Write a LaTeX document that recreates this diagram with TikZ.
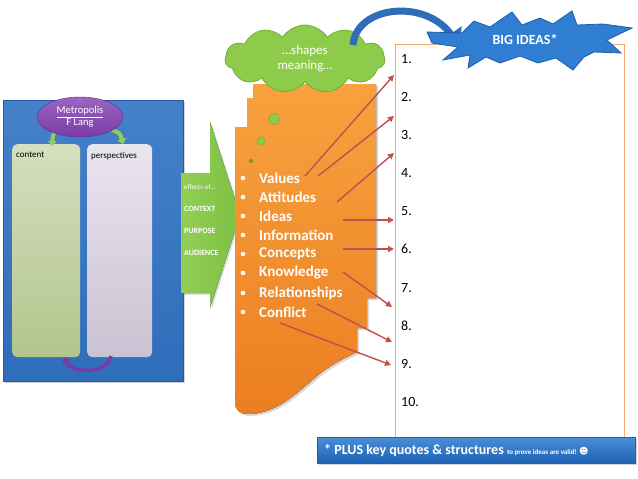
\documentclass[tikz,border=0pt]{standalone}
\usepackage{fontspec}
\setmainfont{Carlito}
\newfontfamily\djv{DejaVu Sans}
\usetikzlibrary{shapes.symbols,shapes.geometric,arrows.meta,shadows}
\definecolor{panelblue}{HTML}{3173C4}
\definecolor{panelblueedge}{HTML}{2458A0}
\definecolor{purp}{HTML}{7A3AA6}
\definecolor{purplight}{HTML}{9A66C0}
\definecolor{sage}{HTML}{C9D7AE}
\definecolor{sagedark}{HTML}{B3C58E}
\definecolor{lav}{HTML}{E9E5EF}
\definecolor{lavdark}{HTML}{C9C2D2}
\definecolor{arrgreen}{HTML}{7CC144}
\definecolor{arrgreenlight}{HTML}{92CE55}
\definecolor{orangetop}{HTML}{F7A23E}
\definecolor{orangebot}{HTML}{EC7E22}
\definecolor{cloudgreen}{HTML}{8FCB4A}
\definecolor{cloudedge}{HTML}{72AE35}
\definecolor{boxline}{HTML}{F2AA6C}
\definecolor{arrred}{HTML}{C0504D}
\definecolor{barblue}{HTML}{2B7AD0}
\definecolor{barbluedark}{HTML}{1D62B4}
\definecolor{starblue}{HTML}{2F7ED2}
\definecolor{staredge}{HTML}{1E5EA8}
\definecolor{bigarrow}{HTML}{2F6DB8}
\begin{document}
\begin{tikzpicture}[x=1pt,y=-1pt,
  word/.style={text=white, font=\fontsize{15}{16}\selectfont\bfseries, anchor=west, inner sep=0pt},
  num/.style={font=\fontsize{14}{16}\selectfont, anchor=west, inner sep=0pt},
  redarr/.style={draw=arrred, line width=1.4pt, -{Triangle[length=6pt,width=6pt]}},
  panel/.style={rounded corners=5pt, anchor=north west, minimum height=213pt, inner sep=0pt},
  paneltext/.style={anchor=north west, font=\fontsize{9}{10}\selectfont, inner sep=0pt},
  gtext/.style={anchor=west, text=white, inner sep=0pt, font=\fontsize{8}{9}\selectfont\bfseries},
  bullet/.style={fill=white},
]
\useasboundingbox (0,0) rectangle (638,479);

% ---- left blue panel ----
\node[anchor=north west, minimum width=180pt, minimum height=281pt, inner sep=0pt,
  top color=panelblue!90!white, bottom color=panelblue!95!black, draw=panelblueedge,
  drop shadow={opacity=0.35, shadow xshift=2pt, shadow yshift=-2pt}] (blue) at (3,100) {};
\node[panel, minimum width=68pt, top color=sage!80!white, bottom color=sagedark] (content) at (12,144) {};
\node[panel, minimum width=65pt, top color=lav, bottom color=lavdark] (persp) at (87,144) {};
\node[paneltext] (contentlbl) at (16,152) {content};
\node[paneltext] (persplbl) at (91,152) {perspectives};

% green arrows from ellipse
\coordinate (gl1) at (60,130);
\coordinate (gl2) at (52,146);
\coordinate (gr1) at (112,130);
\coordinate (gr2) at (123,144);
\draw[line width=4pt, draw=arrgreenlight, -{Triangle[length=5pt,width=9pt]}] (gl1) .. controls (53,133) .. (gl2);
\draw[line width=4pt, draw=arrgreenlight, -{Triangle[length=5pt,width=9pt]}] (gr1) .. controls (120,133) .. (gr2);

\node[ellipse, minimum width=86pt, minimum height=40pt, inner sep=0pt, top color=purplight, bottom color=purp,
  draw=purp!80!black, text=white, align=center, font=\fontsize{10.5}{12}\selectfont] (metro) at (80,117) {\underline{Metropolis}\\F Lang};

% purple bottom arrow
\coordinate (pb1) at (111,356);
\coordinate (pb2) at (64,357);
\draw[line width=3.5pt, draw=purp, -{Triangle[length=6pt,width=9pt]}] (pb1) .. controls (108,374) and (72,374) .. (pb2);

% ---- green block arrow ----
\fill[left color=arrgreenlight, right color=arrgreen,
  drop shadow={opacity=0.3, shadow xshift=1.5pt, shadow yshift=-1.5pt}]
  (181,173) -- (210,173) -- (210,122) -- (240,215) -- (210,308) -- (210,293) -- (181,293) -- cycle;
\node[gtext, font=\fontsize{7}{8}\selectfont] (eff) at (184,187) {effects of…};
\node[gtext] (ctx) at (184,209) {CONTEXT};
\node[gtext] (pur) at (184,231) {PURPOSE};
\node[gtext] (aud) at (184,253) {AUDIENCE};

% ---- orange shape ----
\fill[top color=orangetop, bottom color=orangebot,
  drop shadow={opacity=0.3, shadow xshift=2pt, shadow yshift=-2pt}]
  (253,84) -- (376,84) -- (376,298) -- (367,298) -- (367,328) -- (357,328) -- (357,352)
  .. controls (345,358) and (335,362) .. (318,375)
  .. controls (295,395) and (275,414) .. (248,414)
  .. controls (240,414) and (235,410) .. (235,402)
  -- (235,127) -- (247,127) -- (247,98) -- (253,98) -- cycle;

% bubbles
\fill[cloudgreen, draw=cloudedge, line width=0.5pt] (274,119) circle (5.5);
\fill[cloudgreen, draw=cloudedge, line width=0.5pt] (261,141) circle (4);
\fill[olive!80!green] (251,161) circle (2);

% cloud
\node[cloud, cloud puffs=11, cloud puff arc=115, aspect=2.4, minimum width=160pt, minimum height=68pt,
  fill=cloudgreen, draw=cloudedge, line width=0.8pt, text=white, align=center, inner sep=0pt,
  font=\fontsize{13}{15}\selectfont] (cloud) at (305,59) {…shapes\\meaning…};

% bullet list
\foreach \y in {178,197,216,235,254,273,293,312} {\fill[bullet] (243,\y) circle (2.3);}
\node[word] (w1) at (259,178) {Values};
\node[word] (w2) at (259,197) {Attitudes};
\node[word] (w3) at (259,216) {Ideas};
\node[word] (w4) at (259,235) {Information};
\node[word] (w5) at (259,254) {Concepts};
\node[word] (w6) at (259,273) {Knowledge};
\node[word] (w7) at (259,293) {Relationships};
\node[word] (w8) at (259,312) {Conflict};

% ---- big box ----
\node[draw=boxline, line width=1.4pt, fill=white, minimum width=229pt, minimum height=393pt, anchor=north west, inner sep=0pt] (box) at (395,44) {};
\node[num] (n1) at (401,59) {1.};
\node[num] (n2) at (401,97) {2.};
\node[num] (n3) at (401,135) {3.};
\node[num] (n4) at (401,173) {4.};
\node[num] (n5) at (401,211) {5.};
\node[num] (n6) at (401,249) {6.};
\node[num] (n7) at (401,288) {7.};
\node[num] (n8) at (401,326) {8.};
\node[num] (n9) at (401,364) {9.};
\node[num] (n10) at (401,402) {10.};

% red arrows
\coordinate (s1) at (305,176); \coordinate (e1) at (394,75);
\coordinate (s2) at (318,176); \coordinate (e2) at (394,116);
\coordinate (s3) at (337,202); \coordinate (e3) at (394,153);
\coordinate (s4) at (343,220); \coordinate (e4) at (394,220);
\coordinate (s5) at (343,249); \coordinate (e5) at (394,249);
\coordinate (s6) at (343,272); \coordinate (e6) at (392,307);
\coordinate (s7) at (317,304); \coordinate (e7) at (392,342);
\coordinate (s8) at (280,323); \coordinate (e8) at (391,365);
\foreach \i in {1,...,8} {\draw[redarr] (s\i) -- (e\i);}

% ---- big blue arrow ----
\coordinate (ba1) at (353,45);
\coordinate (ba2) at (460,47);
\draw[line width=7pt, draw=bigarrow, -{Triangle[length=16pt,width=26pt]}] (ba1) .. controls (356,6) and (425,-2) .. (ba2);

% ---- star ----
\filldraw[fill=starblue, draw=staredge, line width=0.8pt]
  (427,32) -- (462,33) -- (474,21) -- (490,27) -- (512,12) -- (522,25) -- (540,18) -- (553,24)
  -- (572,11) -- (577,25) -- (603,24) -- (632,28) -- (607,40) -- (621,53) -- (594,52) -- (584,57)
  -- (573,70) -- (556,58) -- (538,63) -- (520,56) -- (500,63) -- (486,57) -- (468,68) -- (470,55)
  -- (443,60) -- (458,47) -- (432,43) -- cycle;
\node[text=white, font=\fontsize{14}{16}\selectfont\bfseries, inner sep=0pt] (big) at (525,40) {BIG IDEAS*};

% ---- bottom bar ----
\node[anchor=north west, minimum width=318pt, minimum height=26pt, inner sep=0pt,
  top color=barblue!85!white, bottom color=barbluedark, draw=barbluedark,
  drop shadow={opacity=0.35, shadow xshift=2pt, shadow yshift=-2pt}] (bar) at (317,437) {};
\node[anchor=west, text=white, inner sep=0pt] (bartext) at (324,451)
  {\fontsize{14}{16}\selectfont\bfseries * PLUS key quotes \& structures \fontsize{7}{8}\selectfont to prove ideas are valid! {\djv\fontsize{9}{10}\selectfont ☻}};
\end{tikzpicture}
\end{document}
